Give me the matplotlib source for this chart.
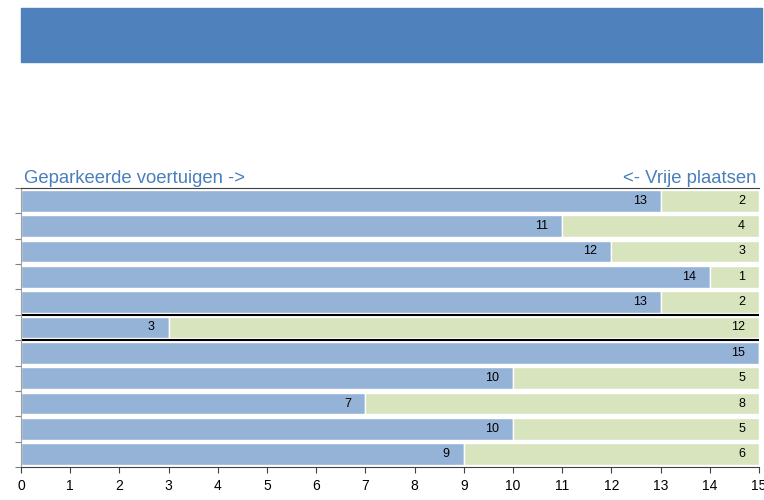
import matplotlib.pyplot as plt
from matplotlib.patches import Rectangle

plt.rcParams['font.family'] = ['Liberation Sans', 'DejaVu Sans']

# data, top row first
geparkeerd = [13, 11, 12, 14, 13, 3, 15, 10, 7, 10, 9]
vrij = [2, 4, 3, 1, 2, 12, 0, 5, 8, 5, 6]
capaciteit = 15

blue = '#95B3D7'
green = '#D7E4BD'
header = '#4F81BD'
textblue = '#4A7EBB'

fig = plt.figure(figsize=(7.64, 5.0), dpi=100)
fig.patches.append(Rectangle((21 / 764, 1 - 62 / 500), 741 / 764, 54 / 500,
                             transform=fig.transFigure, color=header, zorder=0))

ax = fig.add_axes([21 / 764, 33 / 500, 738 / 764, 279 / 500])
rows = list(range(len(geparkeerd)))
ax.barh(rows, geparkeerd, height=0.86, color=blue, edgecolor='white', linewidth=1)
ax.barh(rows, vrij, left=geparkeerd, height=0.86, color=green, edgecolor='white', linewidth=1)

for i in rows:
    ax.annotate(str(geparkeerd[i]), (geparkeerd[i], i), xytext=(-14, 0), textcoords='offset pixels',
                ha='right', va='center', fontsize=9, color='black')
    if vrij[i] > 0:
        ax.annotate(str(vrij[i]), (capaciteit, i), xytext=(-14, 0), textcoords='offset pixels',
                    ha='right', va='center', fontsize=9, color='black')

ax.axhline(4.5, color='black', linewidth=1.5)
ax.axhline(5.5, color='black', linewidth=1.5)

ax.set_xlim(0, capaciteit)
ax.set_ylim(len(rows) - 0.5, -0.5)
ax.set_xticks(range(0, capaciteit + 1))
ax.set_yticks([r - 0.5 for r in range(len(rows) + 1)])
ax.set_yticklabels([])
ax.tick_params(axis='x', length=4, color='#404040', labelsize=10, pad=5)
ax.tick_params(axis='y', length=4, color='#808080')
ax.spines['right'].set_visible(False)
ax.spines['left'].set_color('#A0A0A0')
ax.spines['bottom'].set_color('#404040')
ax.spines['top'].set_color('#404040')

fig.text(24 / 764, 1 - 187 / 500, 'Geparkeerde voertuigen ->', color=textblue, fontsize=13.3,
         ha='left', va='bottom')
fig.text(756 / 764, 1 - 187 / 500, '<- Vrije plaatsen', color=textblue, fontsize=13.3,
         ha='right', va='bottom')

fig.savefig('out.png', dpi=100)
